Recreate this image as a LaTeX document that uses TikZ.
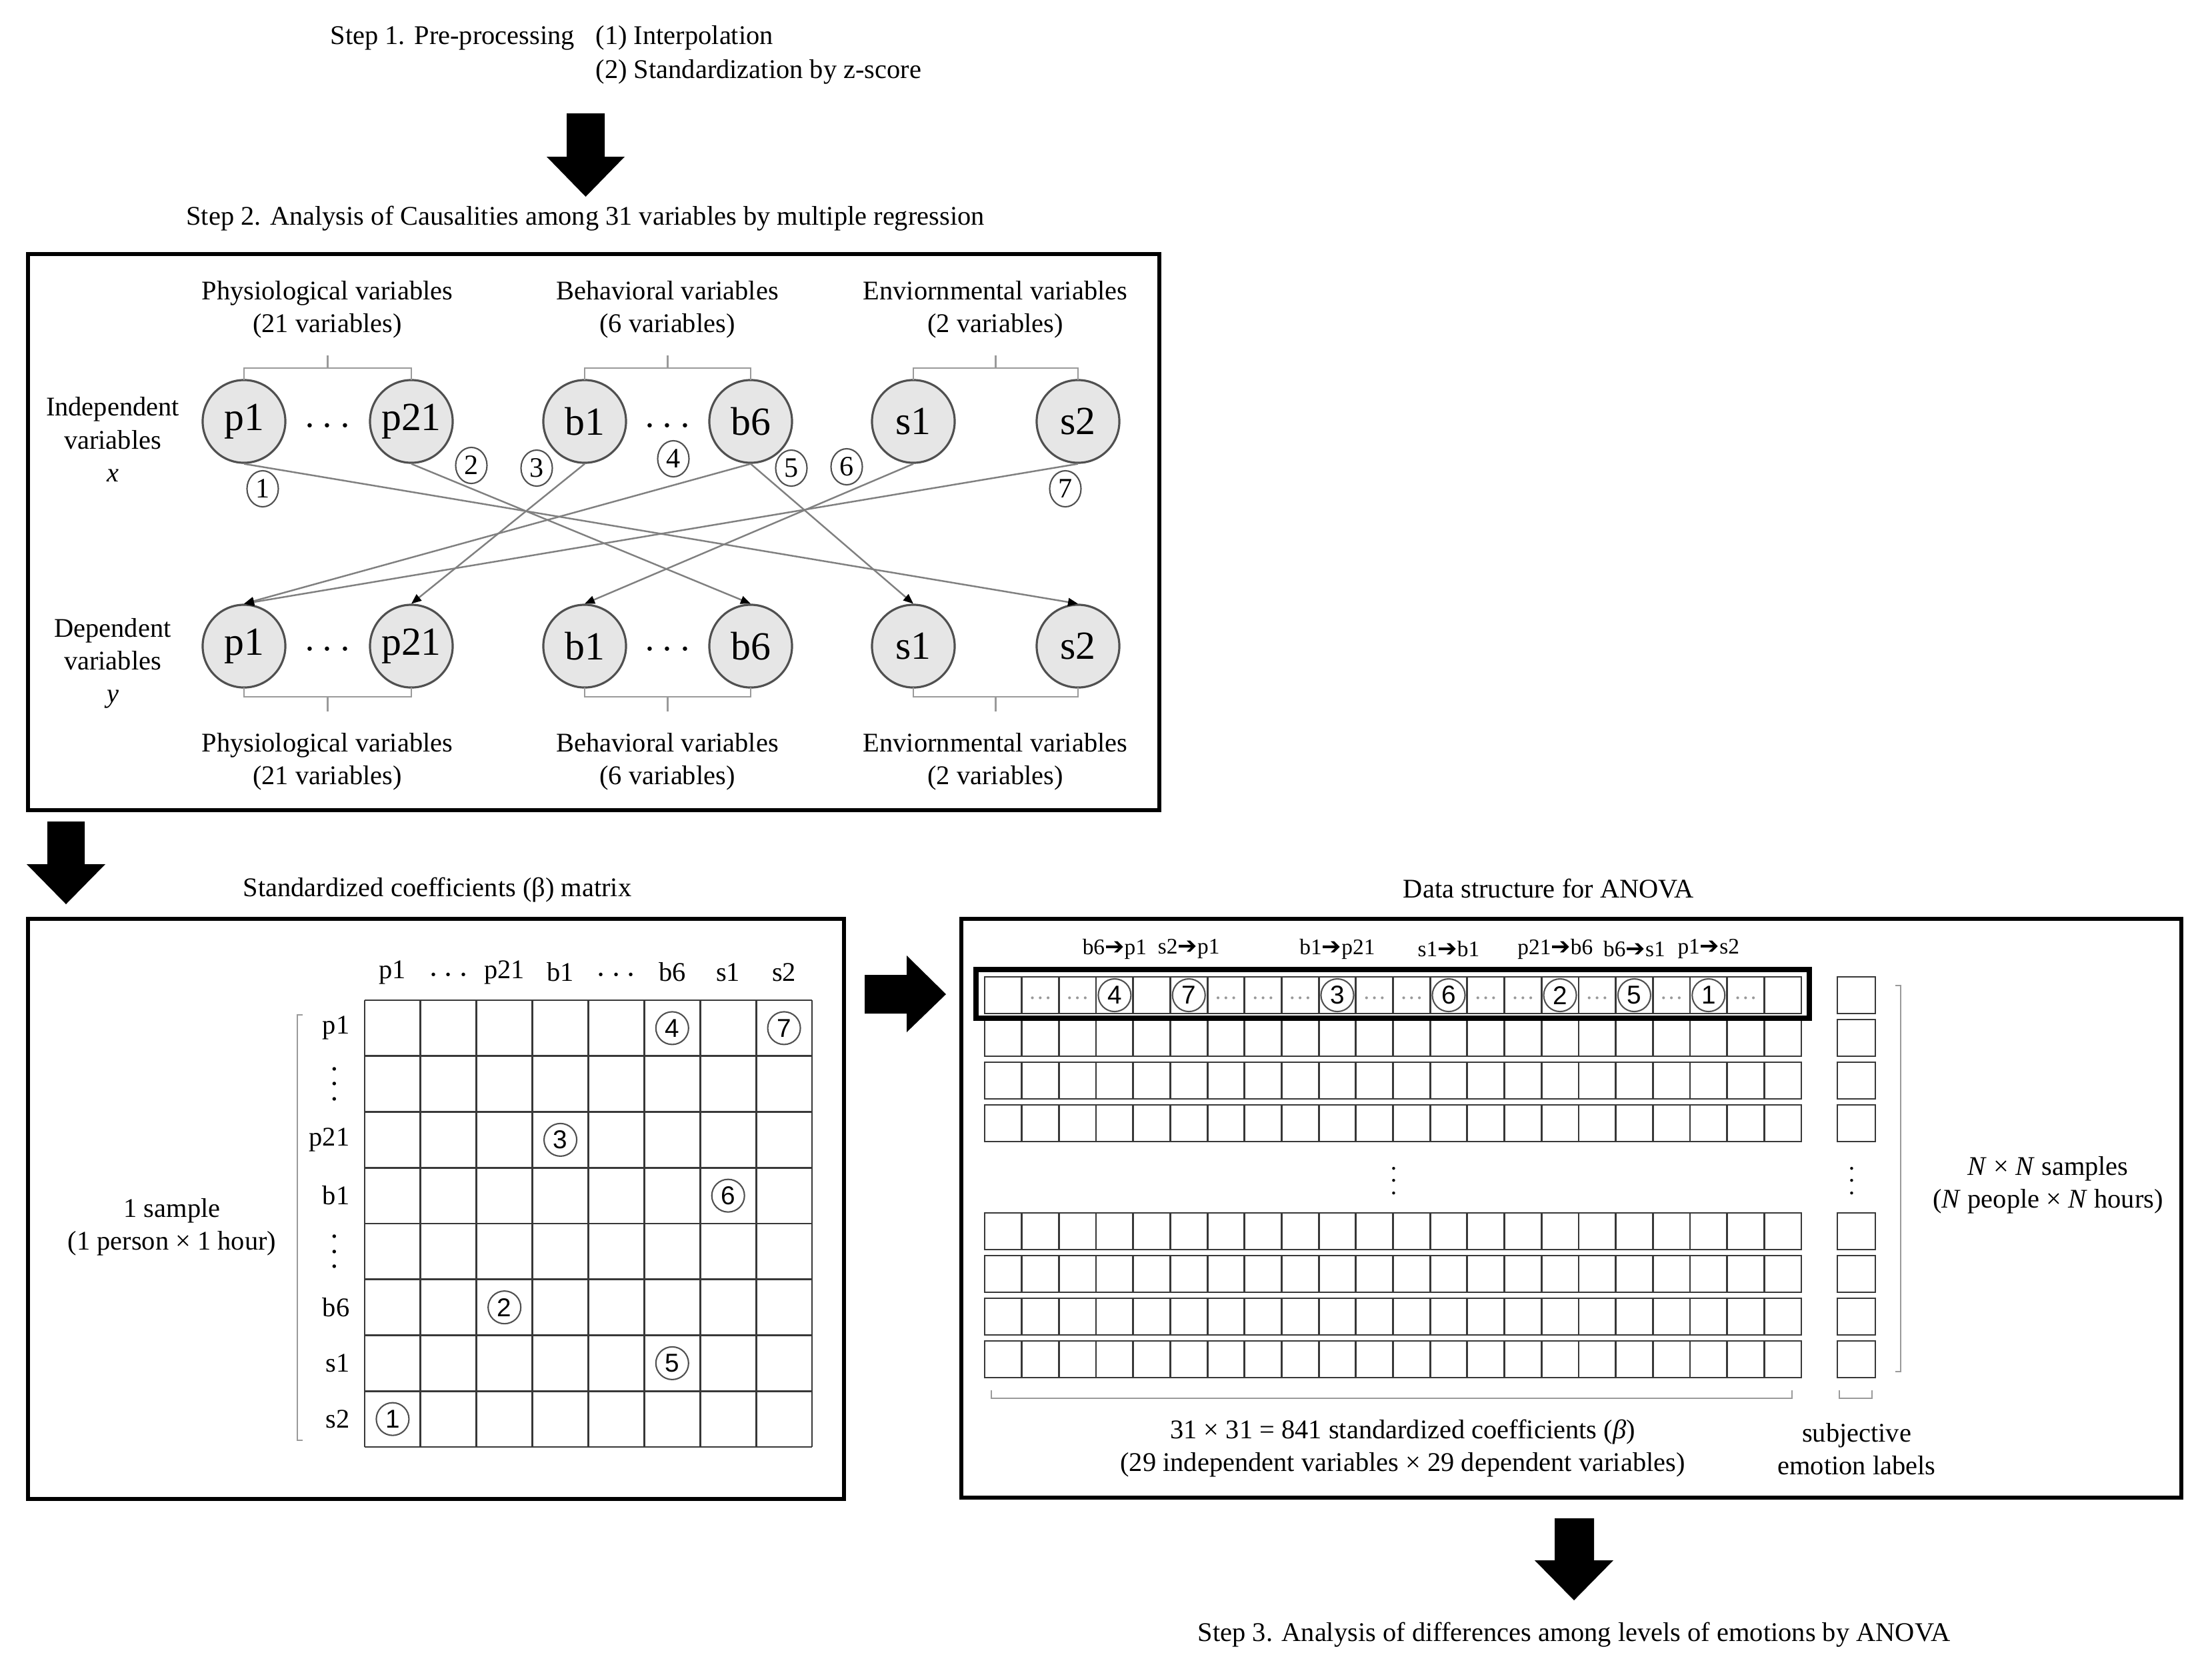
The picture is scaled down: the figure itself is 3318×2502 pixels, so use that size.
\documentclass[tikz,border=0pt]{standalone}
\usepackage{fontspec}
\setmainfont{Liberation Serif}
\setsansfont{Liberation Sans}
\newfontfamily\djv{DejaVu Sans}
\usetikzlibrary{shapes.geometric,arrows.meta}
\definecolor{cfill}{HTML}{E6E6E6}
\definecolor{cline}{HTML}{505050}
\definecolor{lgray}{HTML}{808080}
\definecolor{bgray}{HTML}{9A9A9A}
\definecolor{dgray}{HTML}{999999}
\newcommand{\myarr}{{\djv\fontsize{10}{11}\selectfont ➔}}
\begin{document}
\begin{tikzpicture}[x=0.01cm,y=-0.01cm,
  txt/.style={inner sep=0pt, align=center, font=\fontsize{11.5}{14}\selectfont},
  var/.style={circle, draw=cline, fill=cfill, line width=0.9pt, minimum size=1.24cm, inner sep=0pt, font=\fontsize{17}{18}\selectfont},
  cnum/.style={ellipse, draw=cline, line width=0.6pt, minimum width=0.47cm, minimum height=0.54cm, inner sep=0pt, font=\fontsize{12}{12}\selectfont},
  cnums/.style={circle, draw=cline, line width=0.6pt, minimum size=0.49cm, inner sep=0pt, font=\sffamily\fontsize{11}{12}\selectfont},
  conn/.style={draw=lgray, line width=0.7pt, -{Triangle[length=0.15cm,width=0.12cm,color=black]}},
  frame/.style={draw=black, line width=1.8pt},
  brk/.style={draw=bgray, line width=0.6pt},
  cell/.style={draw=black!78, line width=0.8pt},
  hdots/.style={inner sep=0pt, anchor=base, font=\fontsize{18}{18}\selectfont},
  mdots/.style={inner sep=0pt, font=\fontsize{14}{14}\selectfont},
  cdots/.style={inner sep=0pt, text=dgray, font=\fontsize{10}{10}\selectfont},
  dlab/.style={inner sep=0pt, font=\fontsize{9.5}{11}\selectfont},
]
\useasboundingbox (0,0) rectangle (3318,2502);

% ---------- Step 1 ----------
\node[txt, anchor=west] (s1a) at (495,57) {Step 1. Pre-processing};
\node[txt, anchor=west] (s1b) at (893,57) {(1) Interpolation};
\node[txt, anchor=west] (s1c) at (893,108) {(2) Standardization by z-score};
\fill (850,170) -- (907,170) -- (907,235) -- (937,235) -- (878.5,295) -- (820,235) -- (850,235) -- cycle;
\node[txt] (s2t) at (878,328) {Step 2. Analysis of Causalities among 31 variables by multiple regression};

% ---------- Box 1 ----------
\draw[frame] (42,381) rectangle (1739,1215);

\node[var] (tp1)  at (366,632)  {p1};
\node[var] (tp21) at (617,632)  {p21};
\node[var] (tb1)  at (877,632)  {b1};
\node[var] (tb6)  at (1126,632) {b6};
\node[var] (ts1)  at (1370,632) {s1};
\node[var] (ts2)  at (1617,632) {s2};
\node[var] (bp1)  at (366,969)  {p1};
\node[var] (bp21) at (617,969)  {p21};
\node[var] (bb1)  at (877,969)  {b1};
\node[var] (bb6)  at (1126,969) {b6};
\node[var] (bs1)  at (1370,969) {s1};
\node[var] (bs2)  at (1617,969) {s2};

\node[hdots] (td1) at (491.5,653) {$\cdots$};
\node[hdots] (td2) at (1001.5,653) {$\cdots$};
\node[hdots] (bd1) at (491.5,988) {$\cdots$};
\node[hdots] (bd2) at (1001.5,988) {$\cdots$};

% brackets
\foreach \a/\b in {366/617, 877/1126, 1370/1617} {
  \draw[brk] (\a,570) -- (\a,552) -- (\b,552) -- (\b,570);
  \draw[brk] ({(\a+\b)/2},552) -- ({(\a+\b)/2},533);
  \draw[brk] (\a,1031) -- (\a,1045) -- (\b,1045) -- (\b,1031);
  \draw[brk] ({(\a+\b)/2},1045) -- ({(\a+\b)/2},1067);
}

\node[txt] (tl1) at (491,464)  {Physiological variables\\(21 variables)};
\node[txt] (tl2) at (1001,464) {Behavioral variables\\(6 variables)};
\node[txt] (tl3) at (1493,464) {Enviornmental variables\\(2 variables)};
\node[txt] (bl1) at (491,1142)  {Physiological variables\\(21 variables)};
\node[txt] (bl2) at (1001,1142) {Behavioral variables\\(6 variables)};
\node[txt] (bl3) at (1493,1142) {Enviornmental variables\\(2 variables)};

\node[txt] (indep) at (169,659) {Independent\\variables\\\textit{x}};
\node[txt] (dep)   at (169,995) {Dependent\\variables\\\textit{y}};

% connectors
\draw[conn] (tp1.south)  -- (bs2.north);
\draw[conn] (tp21.south) -- (bb6.north);
\draw[conn] (tb1.south)  -- (bp21.north);
\draw[conn] (tb6.south)  -- (bp1.north);
\draw[conn] (tb6.south)  -- (bs1.north);
\draw[conn] (ts1.south)  -- (bb1.north);
\draw[conn] (ts2.south)  -- (bp1.north);

\node[cnum] (c1) at (394,733)  {1};
\node[cnum] (c2) at (707,698)  {2};
\node[cnum] (c3) at (805,702)  {3};
\node[cnum] (c4) at (1010,688) {4};
\node[cnum] (c5) at (1187,702) {5};
\node[cnum] (c6) at (1270,700) {6};
\node[cnum] (c7) at (1598,733) {7};

% ---------- arrow down-left ----------
\fill (71,1232) -- (127,1232) -- (127,1296) -- (158,1296) -- (99,1356) -- (40,1296) -- (71,1296) -- cycle;

% ---------- Box 2 ----------
\node[txt] (mtitle) at (656,1335) {Standardized coefficients (β) matrix};
\draw[frame] (42,1378) rectangle (1266,2248);

\foreach \i in {0,...,8} {
  \draw[cell] (547+\i*83.875,1500) -- (547+\i*83.875,2170);
  \draw[cell] (547,1500+\i*83.75) -- (1218,1500+\i*83.75);
}
\foreach \lab/\c in {p1/1, p21/3, b1/4, b6/6, s1/7, s2/8} {
  \node[txt] (mh\c) at (547+\c*83.875-41.94,1458) {\lab};
}
\node[mdots, anchor=base] (mh2) at (672.8,1474) {$\cdots$};
\node[mdots, anchor=base] (mh5) at (924.4,1474) {$\cdots$};
\foreach \lab/\r in {p1/1, p21/3, b1/4, b6/6, s1/7, s2/8} {
  \node[txt, anchor=east] (mr\r) at (525,1500+\r*83.75-41.88) {\lab};
}
\node[mdots, rotate=90] (mr2) at (503,1625.6) {$\cdots$};
\node[mdots, rotate=90] (mr5) at (503,1876.9) {$\cdots$};
\draw[brk] (454,1522) -- (446,1522) -- (446,2160) -- (454,2160);
\node[txt] (onesample) at (258,1840) {1 sample\\(1 person × 1 hour)};

\foreach \r/\c/\n in {1/6/4, 1/8/7, 3/4/3, 4/7/6, 6/3/2, 7/6/5, 8/1/1} {
  \node[cnums] (mc\n) at (547+\c*83.875-41.94,1500+\r*83.75-41.88) {\n};
}

% ---------- arrow right ----------
\fill (1297,1462) -- (1360,1462) -- (1360,1433) -- (1419,1491) -- (1360,1548) -- (1360,1520) -- (1297,1520) -- cycle;

% ---------- Box 3 ----------
\node[txt] (dtitle) at (2323,1333) {Data structure for ANOVA};
\draw[frame] (1442,1378) rectangle (3272,2246);

\foreach \t in {1465,1529,1593,1657,1819,1883,1947,2011} {
  \draw[cell] (1477,\t) rectangle (2702,\t+55);
  \foreach \i in {1,...,21} { \draw[cell] (1477+\i*55.68,\t) -- (1477+\i*55.68,\t+55); }
  \draw[cell] (2756,\t) rectangle (2813,\t+55);
}
\draw[draw=black, line width=0.08cm] (1464,1454) rectangle (2714,1527);

\foreach \i in {2,3,7,8,9,11,12,14,15,17,19,21} {
  \node[cdots] (dd\i) at (1477+\i*55.68-27.84,1497) {…};
}
\foreach \i/\n in {4/4, 6/7, 10/3, 13/6, 16/2, 18/5, 20/1} {
  \node[cnums] (dc\n) at (1477+\i*55.68-27.84,1492.5) {\n};
}
\node[dlab] (dl4)  at (1477+4*55.68-27.84,1423)  {b6\myarr p1};
\node[dlab] (dl6)  at (1477+6*55.68-27.84,1423)  {s2\myarr p1};
\node[dlab] (dl10) at (1477+10*55.68-27.84,1423) {b1\myarr p21};
\node[dlab] (dl13) at (1477+13*55.68-27.84,1423) {s1\myarr b1};
\node[dlab] (dl16) at (1477+16*55.68-35,1423)    {p21\myarr b6};
\node[dlab] (dl18) at (1477+18*55.68-27.84,1423) {b6\myarr s1};
\node[dlab] (dl20) at (1477+20*55.68-27.84,1423) {p1\myarr s2};

\node[inner sep=0pt, rotate=90, font=\fontsize{12}{12}\selectfont] (dv1) at (2092,1771) {$\cdots$};
\node[inner sep=0pt, rotate=90, font=\fontsize{12}{12}\selectfont] (dv2) at (2779,1771) {$\cdots$};

\draw[brk] (2843,1478) -- (2851,1478) -- (2851,2057) -- (2843,2057);
\draw[brk] (1487,2085) -- (1487,2097) -- (2688,2097) -- (2688,2085);
\draw[brk] (2759,2085) -- (2759,2097) -- (2808,2097) -- (2808,2085);

\node[txt] (nsamp) at (3072,1777) {\textit{N} × \textit{N} samples\\(\textit{N} people × \textit{N} hours)};
\node[txt] (ncoef) at (2104,2172) {31 × 31 = 841 standardized coefficients (\textit{β})\\(29 independent variables × 29 dependent variables)};
\node[txt] (subj) at (2785,2173) {subjective\\emotion labels};

% ---------- Step 3 ----------
\fill (2332,2277) -- (2391,2277) -- (2391,2340) -- (2420,2340) -- (2361,2400) -- (2302,2340) -- (2332,2340) -- cycle;
\node[txt] (s3t) at (2361,2452) {Step 3. Analysis of differences among levels of emotions by ANOVA};

\end{tikzpicture}
\end{document}
